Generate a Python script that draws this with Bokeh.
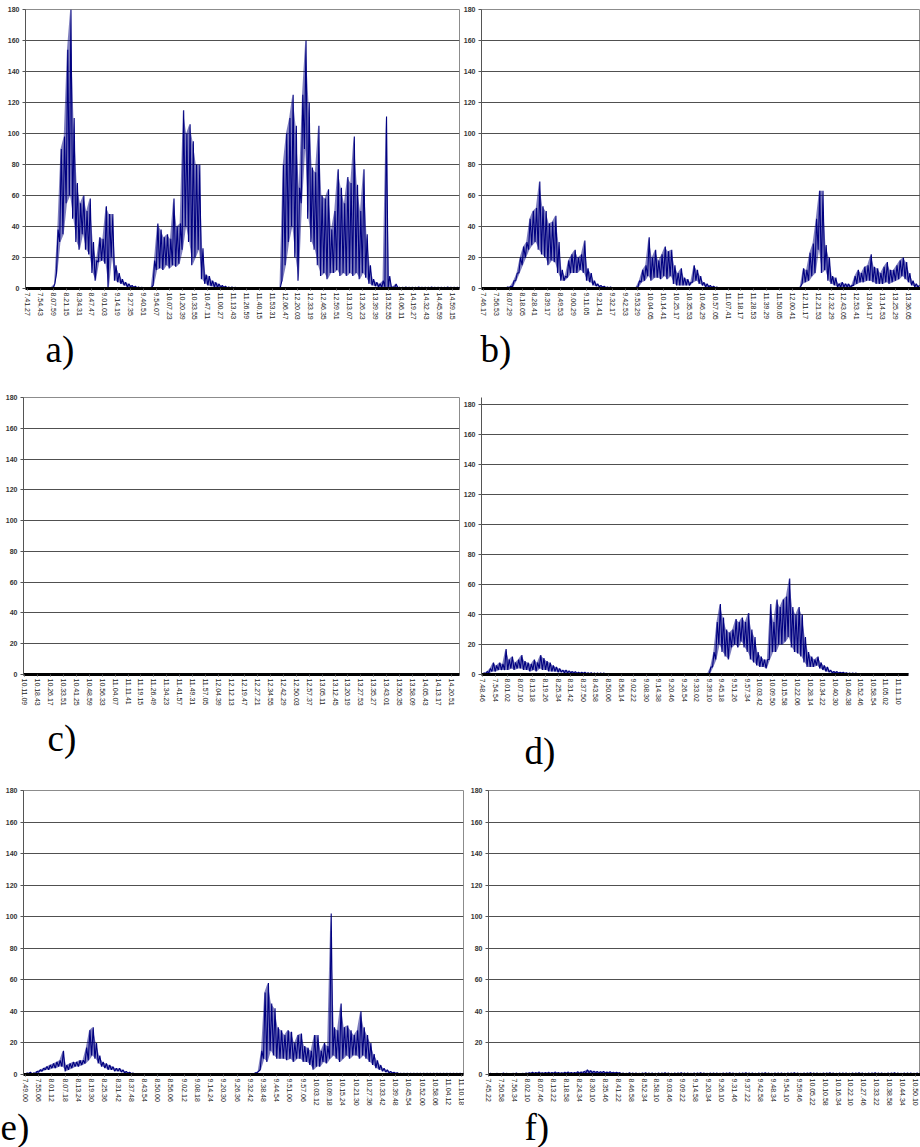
from bokeh.plotting import figure
from bokeh.layouts import column, row
from bokeh.models import Range1d, FixedTicker, ColumnDataSource
from bokeh.core.properties import value
from bokeh.embed import file_html
from bokeh.resources import INLINE

y_ticks = [0, 20, 40, 60, 80, 100, 120, 140, 160, 180]

a_times = ["7.41.27","7.54.43","8.07.59","8.21.15","8.34.31","8.47.47","9.01.03","9.14.19","9.27.35","9.40.51","9.54.07","10.07.23","10.20.39","10.33.55","10.47.11","11.00.27","11.13.43","11.26.59","11.40.15","11.53.31","12.06.47","12.20.03","12.33.19","12.46.35","12.59.51","13.13.07","13.26.23","13.39.39","13.52.55","14.06.11","14.19.27","14.32.43","14.45.59","14.59.15"]
b_times = ["7.46.17","7.56.53","8.07.29","8.18.05","8.28.41","8.39.17","8.49.53","9.00.29","9.11.05","9.21.41","9.32.17","9.42.53","9.53.29","10.04.05","10.14.41","10.25.17","10.35.53","10.46.29","10.57.05","11.07.41","11.18.17","11.28.53","11.39.29","11.50.05","12.00.41","12.11.17","12.21.53","12.32.29","12.43.05","12.53.41","13.04.17","13.14.53","13.25.29","13.36.05"]
c_times = ["10.11.09","10.18.43","10.26.17","10.33.51","10.41.25","10.48.59","10.56.33","11.04.07","11.11.41","11.19.15","11.26.49","11.34.23","11.41.57","11.49.31","11.57.05","12.04.39","12.12.13","12.19.47","12.27.21","12.34.55","12.42.29","12.50.03","12.57.37","13.05.11","13.12.45","13.20.19","13.27.53","13.35.27","13.43.01","13.50.35","13.58.09","14.05.43","14.13.17","14.20.51"]
d_times = ["7.48.46","7.54.54","8.01.02","8.07.10","8.13.18","8.19.26","8.25.34","8.31.42","8.37.50","8.43.58","8.50.06","8.56.14","9.02.22","9.08.30","9.14.38","9.20.46","9.26.54","9.33.02","9.39.10","9.45.18","9.51.26","9.57.34","10.03.42","10.09.50","10.15.58","10.22.06","10.28.14","10.34.22","10.40.30","10.46.38","10.52.46","10.58.54","11.05.02","11.11.10"]
e_times = ["7.49.00","7.55.06","8.01.12","8.07.18","8.13.24","8.19.30","8.25.36","8.31.42","8.37.48","8.43.54","8.50.00","8.56.06","9.02.12","9.08.18","9.14.24","9.20.30","9.26.36","9.32.42","9.38.48","9.44.54","9.51.00","9.57.06","10.03.12","10.09.18","10.15.24","10.21.30","10.27.36","10.33.42","10.39.48","10.45.54","10.52.00","10.58.06","11.04.12","11.10.18"]
f_times = ["7.45.22","7.50.58","7.56.34","8.02.10","8.07.46","8.13.22","8.18.58","8.24.34","8.30.10","8.35.46","8.41.22","8.46.58","8.52.34","8.58.10","9.03.46","9.09.22","9.14.58","9.20.34","9.26.10","9.31.46","9.37.22","9.42.58","9.48.34","9.54.10","9.59.46","10.05.22","10.10.58","10.16.34","10.22.10","10.27.46","10.33.22","10.38.58","10.44.34","10.50.10"]

# per quarter-interval high / low readings
a_hi = [0.5,0.5,0.4,0.5,0.6,0.5,0.5,0.7,3,38,
        90,98,154,180,110,68,55,60,50,58,
        30,18,33,32,53,48,48,15,10,6,
        4,3,2,1.5,1,0.8,0.5,0.5,0.6,18,
        42,38,33,35,32,58,40,42,115,100,
        106,95,80,80,26,9,8,5,4,3,
        2,1.5,1,1,0.8,0.6,0.5,0.5,0.6,0.5,
        0.5,0.5,0.6,0.5,0.5,0.5,0.6,0.5,0.5,80,
        100,110,125,105,65,125,160,120,78,75,
        105,60,58,64,38,50,77,65,55,72,
        68,98,67,50,77,35,15,6,4,3,
        5,111,8,1,3,0.8,0.8,0.9,0.8,0.8,
        0.8,0.9,0.8,0.8,0.8,0.9,0.8,0.8,0.8,0.8,
        0.9,0.8,0.8,0.8,0.8]
a_lo = [0.1,0.1,0.1,0.1,0.1,0.1,0.1,0.2,0.5,10,
        30,35,55,60,45,30,25,35,25,22,
        10,5,17,18,16,0,20,5,4,3,
        2,1,1,0.5,0.3,0.2,0.1,0.1,0.1,2,
        12,13,12,15,13,15,14,16,25,40,
        30,15,20,25,6,3,2,1.5,1,0.8,
        0.5,0.5,0.3,0.3,0.2,0.2,0.2,0.2,0.2,0.2,
        0.2,0.2,0.2,0.2,0.2,0.2,0.2,0.2,0.1,5,
        15,30,40,20,5,55,90,45,30,25,
        15,8,10,6,10,10,12,8,10,8,
        10,8,10,6,10,7,3,2,1.5,1,
        0.8,1,0.5,0.5,0.5,0.5,0.5,0.5,0.5,0.5,
        0.5,0.5,0.5,0.5,0.5,0.5,0.5,0.5,0.5,0.5,
        0.5,0.5,0.5,0.5,0.5]

b_hi = [0.5,0.5,0.6,0.5,0.5,0.6,0.5,1,1.5,5,
        10,20,27,30,45,50,52,69,53,50,
        42,43,47,30,12,8,18,22,25,20,
        22,31,13,10,5,3,2,1.5,1,1,
        0.5,0.6,0.5,0.5,0.5,0.6,0.5,0.8,5,12,
        15,33,20,25,18,22,27,24,25,15,
        10,13,7,6,4,15,12,8,4,3,
        2,1.5,1,0.6,0.5,0.5,0.6,0.5,0.5,0.5,
        0.5,0.6,0.5,0.5,0.5,0.5,0.6,0.5,0.5,0.5,
        0.5,0.6,0.5,0.5,0.5,0.5,0.6,0.5,1,13,
        12,23,29,45,63,63,28,20,8,7,
        3,4,3,3,2,8,12,10,14,15,
        22,14,13,10,14,17,12,12,15,18,
        20,17,10,5,3,2]
b_lo = [0.2,0.2,0.2,0.2,0.2,0.2,0.2,0.3,0.5,1,
        5,10,15,20,25,28,30,25,22,20,
        15,18,17,10,5,5,7,10,10,10,
        12,10,5,4,2,1.5,1,0.8,0.5,0.5,
        0.2,0.2,0.2,0.2,0.2,0.2,0.2,0.3,1,4,
        5,8,5,7,7,6,8,6,8,3,
        2,2,2,2,2,4,5,3,2,1,
        1,0.5,0.5,0.3,0.3,0.3,0.3,0.3,0.3,0.3,
        0.3,0.3,0.3,0.3,0.3,0.3,0.3,0.3,0.3,0.3,
        0.3,0.3,0.3,0.3,0.3,0.3,0.3,0.3,0.5,3,
        4,5,8,10,25,10,12,5,3,2,
        1,1,1,1,0.5,2,3,4,4,5,
        5,4,3,3,3,4,3,4,5,6,
        8,6,4,2,1,1]

c_values = [0,0,0,0,0,0,0,0,0,0,0,0,0,0,0,0,0,0,0,0,0,0,0,0,0,0,0,0,0,0,0,0,0,0]

d_hi = [1,2,4,8,6,8,7,17,10,12,
        8,10,13,9,8,7,10,8,13,11,
        9,8,6,5,4,3,3,2.5,2,2,
        1.5,1.5,1.5,1.2,1.2,1,1,1,1,0.5,
        0.5,0.5,0.5,0.5,0.5,0.5,0.5,0.5,0.5,0.5,
        0.5,0.5,0.5,0.5,0.5,0.5,0.5,0.5,0.5,0.5,
        0.5,0.5,0.5,0.5,0.5,0.5,0.5,0.5,0.5,0.5,
        0.5,0.5,5,15,35,47,38,30,28,30,
        37,35,38,35,41,30,25,15,12,10,
        10,47,35,50,45,50,52,64,45,40,
        45,40,25,15,12,10,12,8,6,5,
        3,2,2,1.5,1.5,1.2,1,1,1,0.5,
        0.5,0.5,0.5,0.5,0.5,0.5,0.5,0.5,0.5,0.5,
        0.5,0.5,0.5,0.5,0.5,0.5]
d_lo = [0.3,0.5,1,2,2,3,3,3,3,4,
        3,4,4,3,3,2,3,2,4,3,
        3,2,2,2,1.5,1.5,1,1,1,0.8,
        0.5,0.5,0.5,0.4,0.4,0.3,0.3,0.3,0.3,0.2,
        0.2,0.2,0.2,0.2,0.2,0.2,0.2,0.2,0.2,0.2,
        0.2,0.2,0.2,0.2,0.2,0.2,0.2,0.2,0.2,0.2,
        0.2,0.2,0.2,0.2,0.2,0.2,0.2,0.2,0.2,0.2,
        0.2,0.2,0.5,5,10,20,15,12,10,18,
        20,18,22,18,15,10,8,6,5,5,
        4,10,15,15,20,20,22,25,18,15,
        14,12,8,5,5,5,6,4,3,2,
        1.5,1,1,0.8,0.8,0.6,0.5,0.5,0.5,0.2,
        0.2,0.2,0.2,0.2,0.2,0.2,0.2,0.2,0.2,0.2,
        0.2,0.2,0.2,0.2,0.2,0.2]

e_hi = [1,1.5,1,2,3,4,5,6,7,8,
        9,15,6,7,8,8,9,9,17,28,
        30,20,12,8,7,6,5,4,4,3,
        2,1.5,1,0.5,0.5,0.5,0.5,0.5,0.5,0.5,
        0.5,0.5,0.5,0.5,0.5,0.5,0.5,0.5,0.5,0.5,
        0.5,0.5,0.5,0.5,0.5,0.5,0.5,0.5,0.5,0.5,
        0.5,0.5,0.5,0.5,0.5,0.5,0.5,0.5,0.5,1,
        2,15,52,58,45,42,30,28,25,28,
        27,20,25,26,18,17,15,25,25,15,
        20,18,102,30,28,45,30,31,28,25,
        28,40,30,25,20,13,9,6,4,3,
        2,1.5,1.2,0.8,0.8,0.8,0.8,0.8,0.8,0.8,
        0.8,0.8,0.8,0.8,0.8,0.8,0.8,0.8,0.8,0.8,
        0.8,0.8,0.8]
e_lo = [0.3,0.5,0.3,0.5,1.5,2,3,3,4,4,
        5,5,2,3,4,5,5,6,7,9,
        12,10,7,5,4,3,3,2,2,1.5,
        1,0.8,0.5,0.3,0.3,0.3,0.3,0.3,0.3,0.3,
        0.3,0.3,0.3,0.3,0.3,0.3,0.3,0.3,0.3,0.3,
        0.3,0.3,0.3,0.3,0.3,0.3,0.3,0.3,0.3,0.3,
        0.3,0.3,0.3,0.3,0.3,0.3,0.3,0.3,0.3,0.5,
        1,3,10,8,15,12,10,10,10,9,
        10,8,10,10,8,8,6,3,5,5,
        8,7,10,12,10,8,10,12,10,12,
        12,10,12,10,8,6,4,3,2,1.5,
        1,0.8,0.6,0.4,0.4,0.4,0.4,0.4,0.4,0.4,
        0.4,0.4,0.4,0.4,0.4,0.4,0.4,0.4,0.4,0.4,
        0.4,0.4,0.4]

f_hi = [0.8,0.6,0.8,0.7,0.9,0.8,0.6,0.8,0.9,0.7,
        0.8,1.0,1.2,1.5,1.3,1.6,1.2,1.4,1.5,1.3,
        1.6,1.4,1.2,1.5,1.6,1.4,1.3,1.8,1.6,2.0,
        3.0,2.5,2.2,2.0,1.8,2.0,1.6,1.8,1.5,1.4,
        1.2,1.0,0.8,1.1,0.9,1.0,0.8,1.0,1.1,0.9,
        1.0,0.8,1.0,0.9,1.1,1.0,0.8,0.9,1.0,1.1,
        0.9,1.0,0.8,1.0,0.9,1.1,1.0,0.8,0.9,1.0,
        1.0,0.8,1.0,0.9,1.1,1.0,0.8,0.9,1.0,1.1,
        0.9,1.0,0.8,1.0,0.9,1.1,1.0,0.8,0.9,1.0,
        1.0,0.8,1.0,0.9,1.1,1.0,0.8,0.9,1.0,1.1,
        0.9,1.0,0.8,1.0,0.9,1.1,1.0,0.8,0.9,1.0,
        1.0,0.8,1.0,0.9,1.1,1.0,0.8,0.9,1.0,1.1,
        0.9,1.0,0.8,1.0,0.9,1.1,1.0,0.8,0.9,1.0,
        1.0,0.8,1.0,0.9]
f_lo = [0.3,0.3,0.3,0.3,0.3,0.3,0.3,0.3,0.3,0.3,
        0.3,0.3,0.5,0.5,0.5,0.5,0.5,0.5,0.5,0.5,
        0.5,0.5,0.5,0.5,0.5,0.5,0.5,0.5,0.5,0.5,
        1.0,1.0,0.8,0.8,0.8,0.8,0.8,0.8,0.8,0.8,
        0.8,0.3,0.3,0.3,0.3,0.3,0.3,0.3,0.3,0.3,
        0.3,0.3,0.3,0.3,0.3,0.3,0.3,0.3,0.3,0.3,
        0.3,0.3,0.3,0.3,0.3,0.3,0.3,0.3,0.3,0.3,
        0.3,0.3,0.3,0.3,0.3,0.3,0.3,0.3,0.3,0.3,
        0.3,0.3,0.3,0.3,0.3,0.3,0.3,0.3,0.3,0.3,
        0.3,0.3,0.3,0.3,0.3,0.3,0.3,0.3,0.3,0.3,
        0.3,0.3,0.3,0.3,0.3,0.3,0.3,0.3,0.3,0.3,
        0.3,0.3,0.3,0.3,0.3,0.3,0.3,0.3,0.3,0.3,
        0.3,0.3,0.3,0.3,0.3,0.3,0.3,0.3,0.3,0.3,
        0.3,0.3,0.3,0.3]

panel_letters = [["a)", "b)"], ["c)", "d)"], ["e)", "f)"]]

LINE = "#000080"
AX_FONT = "Liberation Sans"


def panel(times, w, h, bl, br, bt, bb, x0, x1, y1, outline=True):
    p = figure(width=w, height=h, x_range=Range1d(x0, x1), y_range=Range1d(0, y1),
               output_backend="svg", toolbar_location=None,
               min_border_left=bl, min_border_right=br, min_border_top=bt, min_border_bottom=bb)
    p.background_fill_color = "white"
    p.border_fill_color = "white"
    p.outline_line_color = "#8c8c8c" if outline else None
    p.xgrid.visible = False
    p.ygrid.grid_line_color = "#505050"
    p.ygrid.grid_line_width = 1
    p.yaxis.ticker = FixedTicker(ticks=y_ticks)
    p.yaxis.axis_line_color = "#555555"
    p.yaxis.major_tick_out = 3
    p.yaxis.major_tick_in = 0
    p.yaxis.minor_tick_line_color = None
    p.yaxis.major_tick_line_color = "#555555"
    p.yaxis.major_label_text_font = AX_FONT
    p.yaxis.major_label_text_font_size = "7px"
    p.yaxis.major_label_text_font_style = "bold"
    p.yaxis.major_label_text_color = "#333333"
    p.yaxis.major_label_standoff = 3
    p.xaxis.ticker = FixedTicker(ticks=list(range(len(times))))
    p.xaxis.major_label_overrides = {i: t for i, t in enumerate(times)}
    p.xaxis.major_label_orientation = "vertical"
    p.xaxis.major_label_text_font = AX_FONT
    p.xaxis.major_label_text_font_size = "7px"
    p.xaxis.major_label_text_color = "#222222"
    p.xaxis.major_label_standoff = 2
    p.xaxis.axis_line_color = "black"
    p.xaxis.axis_line_width = 3
    p.xaxis.major_tick_out = 2
    p.xaxis.major_tick_in = 0
    p.xaxis.major_tick_line_color = "#555555"
    p.xaxis.minor_tick_line_color = None
    return p


def series(p, hi, lo):
    xs, ys, xc = [], [], []
    for i, (hv, lv) in enumerate(zip(hi, lo)):
        xs += [i / 4, i / 4 + 0.125]
        ys += [lv, hv]
        xc.append(i / 4 + 0.0625)
    p.varea(x=xc, y1=lo[:len(xc)], y2=hi[:len(xc)], fill_color=LINE, fill_alpha=0.5)
    p.line(xs, ys, line_color=LINE, line_width=1.1)


def strip(h, letters, xpos, ymid):
    s = figure(width=920, height=h, x_range=Range1d(0, 920), y_range=Range1d(h, 0),
               output_backend="svg", toolbar_location=None, min_border=0)
    s.axis.visible = False
    s.grid.visible = False
    s.outline_line_color = None
    s.background_fill_color = "white"
    s.border_fill_color = "white"
    src = ColumnDataSource(dict(x=xpos, y=ymid, t=letters))
    s.text(x="x", y="y", text="t", source=src, text_font=value("Liberation Serif"),
           text_font_size=value("37px"), text_color="black",
           text_baseline="middle", text_align="left")
    return s


pa = panel(a_times, 460, 330, 25, 1, 9, 42, -0.155, 33.54, 180)
series(pa, a_hi, a_lo)
pb = panel(b_times, 460, 330, 20, 0, 9, 42, -0.155, 33.95, 180)
series(pb, b_hi, b_lo)
s1 = strip(62, panel_letters[0], [45, 480], [19, 19])

pc = panel(c_times, 460, 325, 23, 1, 5, 43, -0.077, 33.62, 180)
pc.line(list(range(len(c_values))), c_values, line_color=LINE, line_width=1)
pd = panel(d_times, 460, 325, 21, 12, 5, 43, -0.08, 33.8, 184.6, outline=False)
series(pd, d_hi, d_lo)
s2 = strip(65, panel_letters[1], [47, 524], [21, 34])

pe = panel(e_times, 464, 326, 23, 1, 8, 33, -0.15, 33.13, 180)
series(pe, e_hi, e_lo)
pf = panel(f_times, 456, 326, 24, 0, 8, 33, -0.03, 33.38, 180)
series(pf, f_hi, f_lo)
s3 = strip(39, panel_letters[2], [0, 524], [19, 19])

layout = column(row(pa, pb, spacing=0), s1,
                row(pc, pd, spacing=0), s2,
                row(pe, pf, spacing=0), s3, spacing=0)

open("out.html", "w").write(file_html(layout, INLINE))
